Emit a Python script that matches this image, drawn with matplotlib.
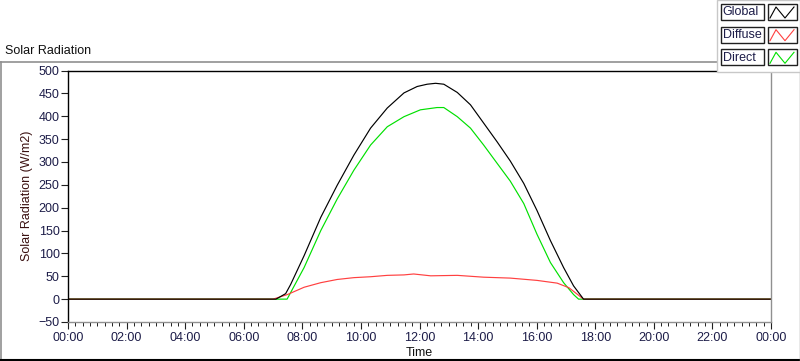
import matplotlib
matplotlib.use("Agg")
import matplotlib.pyplot as plt
from matplotlib.patches import Rectangle
from matplotlib.lines import Line2D
from matplotlib.ticker import MultipleLocator, FuncFormatter

# readings, time in hours of day
global_t = [0, 7.1, 7.43, 7.6, 8.06, 8.63, 9.19, 9.76, 10.33, 10.9, 11.47, 11.92, 12.26, 12.55,
            12.83, 13.29, 13.74, 14.19, 14.65, 15.1, 15.56, 16.01, 16.47, 16.92, 17.26, 17.6, 24]
global_v = [0, 0, 12, 32, 95, 179, 249, 315, 374, 418, 451, 465, 470, 472,
            470, 452, 425, 385, 344, 302, 253, 194, 128, 69, 29, 0, 0]

direct_t = [0, 7.48, 8.06, 8.63, 9.19, 9.76, 10.33, 10.9, 11.47, 12.03, 12.6, 12.83, 13.29,
            13.74, 14.19, 14.65, 15.1, 15.56, 16.01, 16.47, 16.92, 17.26, 17.43, 24]
direct_v = [0, 0, 69, 150, 219, 282, 337, 377, 399, 414, 419, 419, 399,
            374, 337, 297, 258, 209, 142, 80, 36, 10, 0, 0]

diffuse_t = [0, 7.0, 7.49, 8.06, 8.63, 9.19, 9.76, 10.33, 10.9, 11.47, 11.8, 12.38, 13.29,
             14.19, 15.1, 16.01, 16.7, 17.1, 17.6, 24]
diffuse_v = [0, 0, 10, 26, 36, 43, 47, 49, 52, 53, 55, 51, 52,
             48, 46, 41, 35, 25, 0, 0]

series_names = ["Global", "Diffuse", "Direct"]
series_colors = ["#000000", "#ff4040", "#00e000"]

W, H = 800, 361
TXT = "#1c1c48"
FS = 9


def fx(x):
    return x / W


def fy(y):
    return 1 - y / H


def _main():
    plt.rcParams['font.family'] = ['Liberation Sans', 'DejaVu Sans']
    fig = plt.figure(figsize=(8, 3.61), dpi=100)
    ax = fig.add_axes([fx(68), fy(322), fx(771 - 68), (322 - 70.5) / H])

    ax.plot(direct_t, direct_v, color=series_colors[2], lw=0.85)
    ax.plot(diffuse_t, diffuse_v, color=series_colors[1], lw=0.85)
    ax.plot(global_t, global_v, color=series_colors[0], lw=0.85)

    ax.set_xlim(0, 24)
    ax.set_ylim(-50, 500)
    ax.xaxis.set_major_locator(MultipleLocator(2))
    ax.xaxis.set_minor_locator(MultipleLocator(0.25))
    ax.xaxis.set_major_formatter(FuncFormatter(lambda v, p: "%02d:00" % (int(round(v)) % 24)))
    ax.yaxis.set_major_locator(MultipleLocator(50))
    ax.tick_params(axis='x', which='major', length=5, width=0.8, color='#202020',
                   labelsize=FS, labelcolor=TXT, pad=2)
    ax.tick_params(axis='x', which='minor', length=3, width=0.7, color='#202020')
    ax.tick_params(axis='y', which='major', length=5, width=0.8, color='#202020',
                   labelsize=FS, labelcolor=TXT, pad=1)

    ax.spines['top'].set_color('black')
    ax.spines['left'].set_color('black')
    ax.spines['bottom'].set_color('#909090')
    ax.spines['right'].set_color('#909090')
    for s in ax.spines.values():
        s.set_linewidth(1.0)

    ax.set_ylabel("Solar Radiation (W/m2)", fontsize=FS, color='#3a1010', labelpad=4)
    ax.set_xlabel("Time", fontsize=FS, color='#101010', labelpad=2)

    # outer frame of the graph
    fig.add_artist(Line2D([fx(0), fx(717)], [fy(61.5), fy(61.5)], color='#909090', lw=1.2))
    fig.add_artist(Line2D([fx(0.5), fx(0.5)], [fy(61.5), fy(361)], color='#909090', lw=1.2))
    fig.add_artist(Line2D([fx(0), fx(800)], [fy(360), fy(360)], color='black', lw=1.5))
    fig.add_artist(Line2D([fx(799.5), fx(799.5)], [fy(72), fy(361)], color='#909090', lw=1.0))
    fig.text(fx(5), fy(50.5), "Solar Radiation", fontsize=FS, color='#101010', va='center', ha='left')

    # legend panel
    fig.add_artist(Rectangle((fx(717), fy(71.5)), fx(83), 71.5 / H, facecolor='white',
                             edgecolor='#c8c8c8', lw=1.0, zorder=5))
    rows = [4, 26.7, 49.3]
    for name, color, y0 in zip(series_names, series_colors, rows):
        fig.add_artist(Rectangle((fx(720.5), fy(y0 + 16)), fx(43), 16 / H, facecolor='white',
                                 edgecolor='#202020', lw=1.0, zorder=6))
        fig.text(fx(722.5), fy(y0 + 8.3), name, fontsize=FS, color=TXT,
                 va='center', ha='left', zorder=7)
        fig.add_artist(Rectangle((fx(767.5), fy(y0 + 16)), fx(29), 16 / H, facecolor='white',
                                 edgecolor='#202020', lw=1.0, zorder=6))
        zx = [770, 776, 785, 794]
        zy = [y0 + 14, y0 + 3, y0 + 14, y0 + 3]
        fig.add_artist(Line2D([fx(v) for v in zx], [fy(v) for v in zy], color=color,
                              lw=0.8, zorder=7))

    fig.savefig("out.png", dpi=100)


if __name__ == '__main__':
    _main()
